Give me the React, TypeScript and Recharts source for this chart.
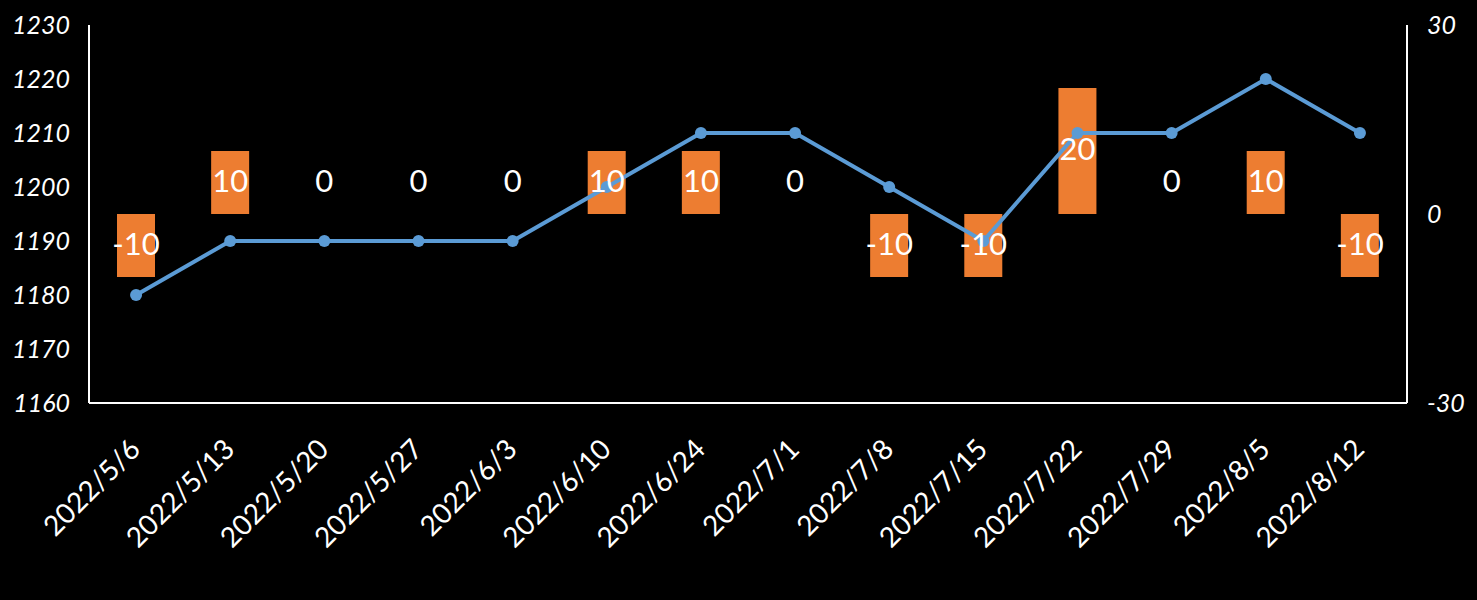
import { Bar, ComposedChart, LabelList, Line, XAxis, YAxis } from 'recharts';

const weeks = [
  '2022/5/6', '2022/5/13', '2022/5/20', '2022/5/27', '2022/6/3', '2022/6/10', '2022/6/24',
  '2022/7/1', '2022/7/8', '2022/7/15', '2022/7/22', '2022/7/29', '2022/8/5', '2022/8/12',
];
const price = [1180, 1190, 1190, 1190, 1190, 1200, 1210, 1210, 1200, 1190, 1210, 1210, 1220, 1210];
const change = [-10, 10, 0, 0, 0, 10, 10, 0, -10, -10, 20, 0, 10, -10];
const leftTicks = [1160, 1170, 1180, 1190, 1200, 1210, 1220, 1230];
const rightTicks = [-30, 0, 30];

// label sits in the middle of its bar; zero labels sit where a 10 bar's label would
const data = weeks.map((w, i) => ({
  week: w,
  price: price[i],
  change: change[i],
  labelAt: change[i] === 0 ? 5 : change[i] / 2,
}));

const font = 'Lato, "Open Sans", sans-serif';

function DateTick({ x, y, payload }: any) {
  return <g transform={`translate(${x + 6},${y + 40})`}>
    <text transform="rotate(-45)" textAnchor="end" fill="#fff" fontSize={28} fontFamily={font}>
      {payload.value}
    </text>
  </g>;
}

function ChangeLabel({ x, y, value }: any) {
  return <text x={x} y={y} dy={9} textAnchor="middle" fill="#fff" fontSize={31} fontFamily={font}>
    {value}
  </text>;
}

export default function App() {
  return <div style={{ width: 1477, height: 600, background: '#000' }}>
    <style>{'body{margin:0;background:#000}'}</style>
    <ComposedChart width={1477} height={600} data={data} margin={{ top: 25, right: 0, left: 0, bottom: 0 }}>
      <XAxis dataKey="week" height={197} stroke="#fff" strokeWidth={2} tickLine={false} interval={0} tick={<DateTick />} />
      <YAxis yAxisId="left" width={89} domain={[1160, 1230]} ticks={leftTicks} stroke="#fff" strokeWidth={2}
        tickLine={false} tickSize={0} tickMargin={19}
        tick={{ fill: '#fff', fontSize: 25, fontStyle: 'italic', fontFamily: font }} />
      <YAxis yAxisId="right" orientation="right" width={70} domain={[-30, 30]} ticks={rightTicks} stroke="#fff" strokeWidth={2}
        tickLine={false} tickSize={0} tickMargin={20}
        tick={{ fill: '#fff', fontSize: 25, fontStyle: 'italic', fontFamily: font, textAnchor: 'start' }} />
      <Bar yAxisId="right" dataKey="change" fill="#ED7D31" barSize={38} isAnimationActive={false} />
      <Line yAxisId="left" dataKey="price" type="linear" stroke="#5B9BD5" strokeWidth={4}
        dot={{ r: 6, fill: '#5B9BD5', stroke: '#5B9BD5', strokeWidth: 0 }} isAnimationActive={false} />
      <Line yAxisId="right" dataKey="labelAt" stroke="none" dot={false} activeDot={false}
        isAnimationActive={false} legendType="none">
        <LabelList dataKey="change" content={<ChangeLabel />} />
      </Line>
    </ComposedChart>
  </div>;
}
